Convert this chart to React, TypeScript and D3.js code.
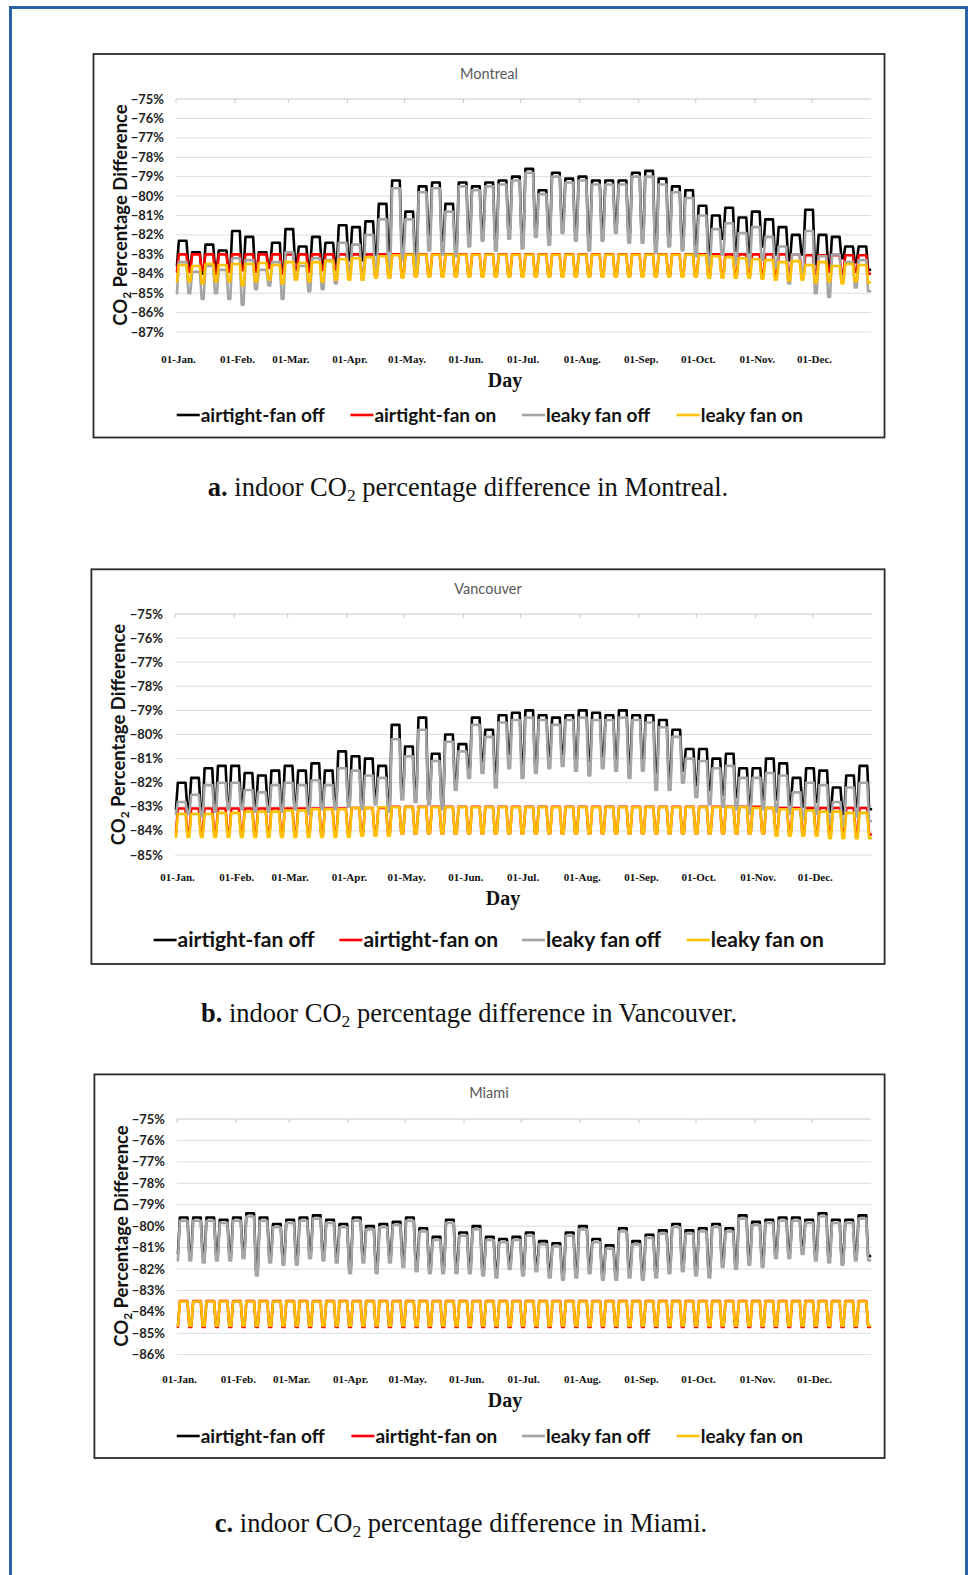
import React from 'react';
import * as d3 from 'd3';

// ---------- shared labels ----------
const monthLabels = ['01-Jan.', '01-Feb.', '01-Mar.', '01-Apr.', '01-May.', '01-Jun.', '01-Jul.', '01-Aug.', '01-Sep.', '01-Oct.', '01-Nov.', '01-Dec.'];
const monthStartDays = [0, 31, 59, 90, 120, 151, 181, 212, 243, 273, 304, 334];
const seriesNames = ['airtight-fan off', 'airtight-fan on', 'leaky fan off', 'leaky fan on'];
const seriesColors = ['#000000', '#ff0000', '#a5a5a5', '#ffc000'];

// Weekly values (52 Mon–Sun blocks, 2017: Jan 1 is a Sunday).
// "Wd" = weekday level, "We" = weekend level, in percent.

// ---------- Montreal ----------
const mtlAirtightOffWd = [
  -82.3, -82.9, -82.5, -82.8, -81.8, -82.1, -82.9, -82.4, -81.7, -82.6, -82.1, -82.4, -81.5,
  -81.6, -81.3, -80.4, -79.2, -80.8, -79.5, -79.3, -80.4, -79.3, -79.5, -79.3, -79.2, -79.0,
  -78.6, -79.7, -78.8, -79.1, -79.0, -79.2, -79.2, -79.2, -78.8, -78.7, -79.1, -79.5, -79.7,
  -80.5, -81.0, -80.6, -81.1, -80.8, -81.2, -81.6, -82.0, -80.7, -82.0, -82.1, -82.6, -82.6,
];
const mtlAirtightOffWe = [
  -83.6, -84.0, -83.7, -83.9, -83.8, -83.9, -83.6, -84.0, -83.4, -83.7, -83.6, -83.5, -83.3,
  -83.3, -83.0, -82.8, -82.6, -83.0, -82.0, -82.3, -82.6, -82.0, -81.8, -82.2, -81.7, -82.3,
  -81.6, -82.0, -81.4, -81.8, -82.2, -81.7, -81.4, -81.9, -82.0, -82.4, -82.1, -82.3, -82.5,
  -83.0, -82.2, -82.8, -82.9, -82.6, -83.0, -83.3, -83.0, -83.5, -83.7, -83.2, -83.4, -83.8,
];
const mtlLeakyOffWd = [
  -83.4, -83.9, -83.6, -83.8, -83.2, -83.3, -83.8, -83.4, -82.9, -83.6, -83.2, -83.3, -82.4,
  -82.5, -82.0, -81.2, -79.6, -81.2, -79.8, -79.6, -80.8, -79.5, -79.7, -79.5, -79.4, -79.2,
  -78.8, -79.9, -79.0, -79.3, -79.2, -79.4, -79.4, -79.4, -79.0, -79.0, -79.4, -79.8, -80.1,
  -81.0, -81.7, -81.4, -81.9, -81.6, -82.1, -82.6, -83.0, -81.8, -83.1, -83.0, -83.4, -83.3,
];
const mtlLeakyOffWe = [
  -85.0, -85.3, -85.0, -85.3, -85.6, -84.8, -84.6, -85.3, -84.3, -84.9, -84.8, -84.5, -84.1,
  -84.3, -84.0, -84.2, -83.3, -83.8, -82.8, -83.0, -83.1, -82.6, -82.3, -82.8, -82.2, -82.7,
  -82.1, -82.5, -81.9, -82.3, -82.8, -82.3, -81.9, -82.4, -82.4, -82.9, -82.6, -82.8, -83.1,
  -83.6, -83.0, -83.5, -83.6, -83.3, -83.7, -84.5, -84.0, -85.0, -85.2, -84.4, -84.7, -84.9,
];
const mtlAirtightOnWd = [
  -83.0, -83.0, -83.0, -83.0, -83.0, -83.0, -83.0, -83.0, -83.0, -83.0, -83.0, -83.0, -83.0,
  -83.0, -83.0, -83.0, -83.0, -83.0, -83.0, -83.0, -83.0, -83.0, -83.0, -83.0, -83.0, -83.0,
  -83.0, -83.0, -83.0, -83.0, -83.0, -83.0, -83.0, -83.0, -83.0, -83.0, -83.0, -83.0, -83.0,
  -83.0, -83.0, -83.0, -83.0, -83.0, -83.0, -83.0, -83.0, -83.05, -83.05, -83.05, -83.05, -83.05,
];
const mtlAirtightOnWe = [
  -83.9, -83.8, -84.0, -83.9, -83.8, -83.9, -83.7, -84.0, -83.8, -83.9, -83.8, -83.8, -83.9,
  -84.0, -84.1, -84.1, -84.1, -84.1, -84.1, -84.1, -84.1, -84.1, -84.1, -84.1, -84.1, -84.1,
  -84.1, -84.1, -84.1, -84.1, -84.1, -84.1, -84.1, -84.1, -84.1, -84.1, -84.1, -84.1, -84.1,
  -84.1, -84.1, -84.1, -84.1, -84.1, -84.1, -84.0, -84.0, -84.0, -83.9, -84.0, -83.9, -84.0,
];
const mtlLeakyOnWd = [
  -83.55, -83.6, -83.5, -83.55, -83.5, -83.5, -83.45, -83.55, -83.4, -83.45, -83.4, -83.35, -83.25,
  -83.2, -83.15, -83.1, -83.05, -83.02, -83.02, -83.02, -83.02, -83.02, -83.02, -83.02, -83.02, -83.02,
  -83.02, -83.02, -83.02, -83.02, -83.02, -83.02, -83.02, -83.02, -83.02, -83.02, -83.02, -83.02, -83.02,
  -83.05, -83.1, -83.15, -83.2, -83.25, -83.3, -83.4, -83.35, -83.55, -83.4, -83.6, -83.5, -83.55,
];
const mtlLeakyOnWe = [
  -84.4, -84.5, -84.4, -84.4, -84.6, -84.4, -84.3, -84.5, -84.3, -84.4, -84.4, -84.3, -84.3,
  -84.3, -84.2, -84.2, -84.2, -84.15, -84.15, -84.15, -84.15, -84.15, -84.15, -84.15, -84.15, -84.15,
  -84.15, -84.15, -84.15, -84.15, -84.15, -84.15, -84.15, -84.15, -84.15, -84.15, -84.15, -84.15, -84.15,
  -84.2, -84.2, -84.2, -84.2, -84.25, -84.3, -84.35, -84.3, -84.45, -84.4, -84.5, -84.4, -84.45,
];

// ---------- Vancouver ----------
const vanAirtightOffWd = [
  -82.0, -81.8, -81.4, -81.3, -81.3, -81.6, -81.7, -81.5, -81.3, -81.5, -81.2, -81.5, -80.7,
  -80.9, -81.0, -81.3, -79.6, -80.5, -79.3, -80.8, -80.0, -80.4, -79.3, -79.8, -79.2, -79.1,
  -79.0, -79.2, -79.3, -79.2, -79.0, -79.1, -79.2, -79.0, -79.2, -79.2, -79.4, -79.8, -80.6,
  -80.6, -81.0, -80.8, -81.4, -81.4, -81.0, -81.2, -81.8, -81.4, -81.5, -82.2, -81.7, -81.3,
];
const vanAirtightOffWe = [
  -83.1, -83.2, -83.0, -83.0, -82.9, -83.0, -83.0, -83.0, -82.9, -83.0, -83.0, -82.9, -82.8,
  -82.9, -82.6, -82.9, -82.4, -82.5, -82.7, -82.9, -82.0, -81.4, -81.1, -81.6, -80.8, -81.2,
  -81.2, -80.9, -80.8, -81.0, -81.1, -80.9, -81.0, -81.2, -81.0, -81.6, -81.8, -81.5, -82.1,
  -82.3, -82.5, -82.6, -82.9, -82.7, -82.7, -82.9, -83.0, -82.8, -83.2, -83.3, -83.0, -83.1,
];
const vanLeakyOffWd = [
  -82.8, -82.5, -82.1, -82.0, -82.0, -82.3, -82.4, -82.1, -82.0, -82.1, -81.9, -82.1, -81.4,
  -81.5, -81.7, -81.8, -80.2, -80.9, -79.8, -81.1, -80.3, -80.7, -79.6, -80.1, -79.5, -79.4,
  -79.3, -79.4, -79.6, -79.4, -79.3, -79.4, -79.4, -79.3, -79.4, -79.5, -79.7, -80.1, -81.0,
  -81.1, -81.4, -81.3, -81.8, -81.8, -81.6, -81.7, -82.4, -82.0, -82.1, -82.8, -82.2, -82.0,
];
const vanLeakyOffWe = [
  -83.3, -83.4, -83.2, -83.1, -83.1, -83.2, -83.2, -83.2, -83.1, -83.3, -83.1, -83.1, -83.0,
  -83.1, -82.9, -83.2, -82.7, -82.8, -82.9, -83.1, -82.3, -81.8, -81.6, -82.2, -81.4, -81.8,
  -81.6, -81.4, -81.3, -81.5, -81.7, -81.4, -81.5, -81.8, -81.5, -82.3, -82.3, -82.0, -82.6,
  -82.9, -83.0, -83.1, -83.3, -83.1, -83.2, -83.3, -83.5, -83.3, -83.7, -83.8, -83.4, -83.6,
];
const vanAirtightOnWd = [
  -83.07, -83.07, -83.07, -83.07, -83.07, -83.07, -83.07, -83.07, -83.07, -83.07, -83.07, -83.07, -83.07,
  -83.05, -83.05, -83.05, -83.0, -83.0, -83.0, -83.0, -83.0, -83.0, -83.0, -83.0, -83.0, -83.0,
  -83.0, -83.0, -83.0, -83.0, -83.0, -83.0, -83.0, -83.0, -83.0, -83.0, -83.0, -83.0, -83.0,
  -83.0, -83.0, -83.0, -83.0, -83.0, -83.05, -83.05, -83.05, -83.05, -83.05, -83.05, -83.05, -83.05,
];
const vanAirtightOnWe = [
  -84.1, -84.1, -84.1, -84.1, -84.1, -84.1, -84.1, -84.1, -84.1, -84.1, -84.1, -84.1, -84.1,
  -84.1, -84.1, -84.1, -84.1, -84.1, -84.1, -84.1, -84.1, -84.1, -84.1, -84.1, -84.1, -84.1,
  -84.1, -84.1, -84.1, -84.1, -84.1, -84.1, -84.1, -84.1, -84.1, -84.1, -84.1, -84.1, -84.1,
  -84.1, -84.1, -84.1, -84.1, -84.1, -84.1, -84.1, -84.1, -84.1, -84.1, -84.1, -84.1, -84.15,
];
const vanLeakyOnWd = [
  -83.3, -83.3, -83.3, -83.25, -83.25, -83.2, -83.2, -83.2, -83.15, -83.15, -83.1, -83.1, -83.1,
  -83.05, -83.05, -83.02, -83.02, -83.02, -83.02, -83.02, -83.02, -83.02, -83.02, -83.02, -83.02, -83.02,
  -83.02, -83.02, -83.02, -83.02, -83.02, -83.02, -83.02, -83.02, -83.02, -83.02, -83.02, -83.02, -83.02,
  -83.02, -83.02, -83.02, -83.02, -83.05, -83.05, -83.1, -83.1, -83.15, -83.2, -83.2, -83.25, -83.25,
];
const vanLeakyOnWe = [
  -84.25, -84.25, -84.25, -84.25, -84.25, -84.25, -84.25, -84.25, -84.25, -84.25, -84.25, -84.25, -84.25,
  -84.2, -84.2, -84.2, -84.1, -84.1, -84.1, -84.1, -84.1, -84.1, -84.1, -84.1, -84.1, -84.1,
  -84.1, -84.1, -84.1, -84.1, -84.1, -84.1, -84.1, -84.1, -84.1, -84.1, -84.1, -84.1, -84.1,
  -84.1, -84.1, -84.1, -84.1, -84.1, -84.2, -84.2, -84.2, -84.2, -84.3, -84.3, -84.3, -84.3,
];

// ---------- Miami ----------
const miaAirtightOffWd = [
  -79.6, -79.6, -79.6, -79.7, -79.6, -79.4, -79.6, -79.9, -79.7, -79.6, -79.5, -79.7, -79.9,
  -79.6, -80.0, -79.9, -79.8, -79.6, -80.1, -80.5, -79.7, -80.3, -80.0, -80.5, -80.6, -80.5,
  -80.3, -80.7, -80.8, -80.3, -80.0, -80.6, -80.9, -80.1, -80.7, -80.4, -80.2, -79.9, -80.2,
  -80.1, -79.9, -80.1, -79.5, -79.8, -79.7, -79.6, -79.6, -79.7, -79.4, -79.7, -79.7, -79.5,
];
const miaAirtightOffWe = [
  -81.3, -81.4, -81.3, -81.3, -81.2, -82.0, -81.4, -81.5, -81.5, -81.2, -81.3, -81.4, -81.9,
  -81.4, -81.9, -81.4, -81.6, -81.8, -81.9, -81.9, -81.9, -81.9, -82.0, -82.1, -81.7, -82.0,
  -81.8, -82.1, -82.2, -82.1, -81.9, -82.2, -82.2, -82.1, -82.2, -82.1, -81.9, -81.8, -82.0,
  -82.1, -81.6, -81.7, -81.5, -81.6, -81.2, -81.2, -81.0, -81.3, -81.4, -81.5, -81.3, -81.4,
];
const miaLeakyOffWd = [
  -79.75, -79.75, -79.75, -79.85, -79.75, -79.55, -79.75, -80.05, -79.85, -79.75, -79.65, -79.85, -80.05,
  -79.75, -80.15, -80.05, -79.95, -79.75, -80.25, -80.65, -79.85, -80.45, -80.15, -80.65, -80.75, -80.65,
  -80.45, -80.85, -80.95, -80.45, -80.15, -80.75, -81.05, -80.25, -80.85, -80.55, -80.35, -80.05, -80.35,
  -80.25, -80.05, -80.25, -79.65, -79.95, -79.85, -79.75, -79.75, -79.85, -79.55, -79.85, -79.85, -79.65,
];
const miaLeakyOffWe = [
  -81.6, -81.7, -81.6, -81.6, -81.5, -82.3, -81.7, -81.8, -81.8, -81.5, -81.6, -81.7, -82.2,
  -81.7, -82.2, -81.7, -81.9, -82.1, -82.2, -82.2, -82.2, -82.2, -82.3, -82.4, -82.0, -82.3,
  -82.1, -82.4, -82.5, -82.4, -82.2, -82.5, -82.5, -82.4, -82.5, -82.4, -82.2, -82.1, -82.3,
  -82.4, -81.9, -82.0, -81.8, -81.9, -81.5, -81.5, -81.3, -81.6, -81.7, -81.8, -81.6, -81.6,
];
const miaAirtightOnWd = [
  -83.5, -83.5, -83.5, -83.5, -83.5, -83.5, -83.5, -83.5, -83.5, -83.5, -83.5, -83.5, -83.5,
  -83.5, -83.5, -83.5, -83.5, -83.5, -83.5, -83.5, -83.5, -83.5, -83.5, -83.5, -83.5, -83.5,
  -83.5, -83.5, -83.5, -83.5, -83.5, -83.5, -83.5, -83.5, -83.5, -83.5, -83.5, -83.5, -83.5,
  -83.5, -83.5, -83.5, -83.5, -83.5, -83.5, -83.5, -83.5, -83.5, -83.5, -83.5, -83.5, -83.5,
];
const miaAirtightOnWe = [
  -84.7, -84.7, -84.7, -84.7, -84.7, -84.7, -84.7, -84.7, -84.7, -84.7, -84.7, -84.7, -84.7,
  -84.7, -84.7, -84.7, -84.7, -84.7, -84.7, -84.7, -84.7, -84.7, -84.7, -84.7, -84.7, -84.7,
  -84.7, -84.7, -84.7, -84.7, -84.7, -84.7, -84.7, -84.7, -84.7, -84.7, -84.7, -84.7, -84.7,
  -84.7, -84.7, -84.7, -84.7, -84.7, -84.7, -84.7, -84.7, -84.7, -84.7, -84.7, -84.7, -84.7,
];
const miaLeakyOnWd = [
  -83.52, -83.52, -83.52, -83.52, -83.52, -83.52, -83.52, -83.52, -83.52, -83.52, -83.52, -83.52, -83.52,
  -83.52, -83.52, -83.52, -83.52, -83.52, -83.52, -83.52, -83.52, -83.52, -83.52, -83.52, -83.52, -83.52,
  -83.52, -83.52, -83.52, -83.52, -83.52, -83.52, -83.52, -83.52, -83.52, -83.52, -83.52, -83.52, -83.52,
  -83.52, -83.52, -83.52, -83.52, -83.52, -83.52, -83.52, -83.52, -83.52, -83.52, -83.52, -83.52, -83.52,
];
const miaLeakyOnWe = [
  -84.65, -84.65, -84.65, -84.65, -84.65, -84.65, -84.65, -84.65, -84.65, -84.65, -84.65, -84.65, -84.65,
  -84.65, -84.65, -84.65, -84.65, -84.65, -84.65, -84.65, -84.65, -84.65, -84.65, -84.65, -84.65, -84.65,
  -84.65, -84.65, -84.65, -84.65, -84.65, -84.65, -84.65, -84.65, -84.65, -84.65, -84.65, -84.65, -84.65,
  -84.65, -84.65, -84.65, -84.65, -84.65, -84.65, -84.65, -84.65, -84.65, -84.65, -84.65, -84.65, -84.65,
];

// Day-by-day table: day 0 is a Sunday; each later block runs Mon..Sun.
function toDaily(weekday: number[], weekend: number[]): number[] {
  const out: number[] = [];
  for (let d = 0; d < 365; d++) {
    if (d === 0) {
      out.push(weekend[0]);
      continue;
    }
    const k = Math.floor((d - 1) / 7);
    const pos = (d - 1) % 7;
    out.push(pos < 5 ? weekday[k] : weekend[k]);
  }
  return out;
}

const SANS = 'Lato, "Open Sans", sans-serif';
const SERIF = '"Liberation Serif", "Times New Roman", serif';

interface PanelCfg {
  title: string;
  box: [number, number, number, number];
  x0: number;
  x1: number;
  yMin: number;
  yMax: number;
  yBottom: number;
  yTop: number;
  titleX: number;
  titleY: number;
  tickRight: number;
  yTitleX: number;
  yTitleY: number;
  xLabelY: number;
  dayX: number;
  dayY: number;
  legendY: number;
  legendX: number[];
  legendSize: number;
  series: number[][];
}

function Panel({ cfg }: { cfg: PanelCfg }) {
  const x = d3.scaleLinear().domain([0, 365]).range([cfg.x0, cfg.x1]);
  const y = d3.scaleLinear().domain([cfg.yMin, cfg.yMax]).range([cfg.yBottom, cfg.yTop]);
  const line = d3
    .line<number>()
    .x((_, i) => x(i + 0.5))
    .y((v) => y(v));
  const fmt = d3.format('.0%');
  const ticks = d3.range(cfg.yMax, cfg.yMin - 0.5, -1);
  const [bx, by, bw, bh] = cfg.box;
  return (
    <g>
      <rect x={bx} y={by} width={bw} height={bh} fill="#fff" stroke="#2b2b2b" strokeWidth={1.8} />
      <text x={cfg.titleX} y={cfg.titleY} textAnchor="middle" fontFamily={SANS} fontSize={14.5} fill="#595959">
        {cfg.title}
      </text>
      {ticks.map((t) => (
        <g key={t}>
          <line
            x1={cfg.x0}
            x2={cfg.x1}
            y1={y(t)}
            y2={y(t)}
            stroke={t === cfg.yMax ? '#c8c8c8' : '#dcdcdc'}
            strokeWidth={1}
          />
          <text
            x={cfg.tickRight}
            y={y(t)}
            dy="0.35em"
            textAnchor="end"
            fontFamily={SANS}
            fontWeight={700}
            fontSize={13}
            fill="#1e1e1e"
          >
            {fmt(t / 100)}
          </text>
        </g>
      ))}
      {monthStartDays.map((d) => (
        <line key={d} x1={x(d)} x2={x(d)} y1={y(cfg.yMax)} y2={y(cfg.yMax) + 4} stroke="#c8c8c8" strokeWidth={1} />
      ))}
      {cfg.series.map((s, i) => (
        <path
          key={i}
          d={line(s) || ''}
          fill="none"
          stroke={seriesColors[i]}
          strokeWidth={2.6}
          strokeLinejoin="round"
          strokeLinecap="round"
        />
      ))}
      <text
        transform={`translate(${cfg.yTitleX},${cfg.yTitleY}) rotate(-90)`}
        textAnchor="middle"
        dy="0.35em"
        fontFamily={SANS}
        fontWeight={700}
        fontSize={18.5}
        fill="#111"
      >
        CO<tspan fontSize={12} dy={4.5}>2</tspan>
        <tspan dy={-4.5}> Percentage Difference</tspan>
      </text>
      {monthStartDays.map((d, i) => (
        <text
          key={d}
          x={x(d) + 2.5}
          y={cfg.xLabelY}
          textAnchor="middle"
          fontFamily={SERIF}
          fontWeight={700}
          fontSize={11}
          fill="#111"
        >
          {monthLabels[i]}
        </text>
      ))}
      <text x={cfg.dayX} y={cfg.dayY} textAnchor="middle" fontFamily={SERIF} fontWeight={700} fontSize={20} fill="#111">
        Day
      </text>
      {seriesNames.map((n, i) => (
        <g key={n}>
          <line
            x1={cfg.legendX[i]}
            x2={cfg.legendX[i] + 23}
            y1={cfg.legendY}
            y2={cfg.legendY}
            stroke={seriesColors[i]}
            strokeWidth={2.6}
          />
          <text
            x={cfg.legendX[i] + 24}
            y={cfg.legendY}
            dy="0.35em"
            fontFamily={SANS}
            fontWeight={700}
            fontSize={cfg.legendSize}
            fill="#111"
          >
            {n}
          </text>
        </g>
      ))}
    </g>
  );
}

function Caption({ x, y, tag, city }: { x: number; y: number; tag: string; city: string }) {
  return (
    <text x={x} y={y} textAnchor="middle" fontFamily={SERIF} fontSize={26.5} fill="#111">
      <tspan fontWeight={700}>{tag}</tspan>
      <tspan> indoor CO</tspan>
      <tspan fontSize={17.5} dy={4.5}>2</tspan>
      <tspan dy={-4.5}> percentage difference in {city}.</tspan>
    </text>
  );
}

const panels: PanelCfg[] = [
  {
    title: 'Montreal',
    box: [93.5, 54, 791, 383.5],
    x0: 176,
    x1: 871,
    yMin: -87,
    yMax: -75,
    yBottom: 332,
    yTop: 99,
    titleX: 489,
    titleY: 78.5,
    tickRight: 164,
    yTitleX: 120.5,
    yTitleY: 215,
    xLabelY: 363,
    dayX: 505,
    dayY: 387,
    legendY: 415,
    legendX: [176.7, 350.4, 522, 676.7],
    legendSize: 19,
    series: [
      toDaily(mtlAirtightOffWd, mtlAirtightOffWe),
      toDaily(mtlAirtightOnWd, mtlAirtightOnWe),
      toDaily(mtlLeakyOffWd, mtlLeakyOffWe),
      toDaily(mtlLeakyOnWd, mtlLeakyOnWe),
    ],
  },
  {
    title: 'Vancouver',
    box: [91.4, 569.3, 793.2, 394.7],
    x0: 175,
    x1: 872,
    yMin: -85,
    yMax: -75,
    yBottom: 855,
    yTop: 614,
    titleX: 488,
    titleY: 593.5,
    tickRight: 163,
    yTitleX: 118.5,
    yTitleY: 734.5,
    xLabelY: 881,
    dayX: 503,
    dayY: 905,
    legendY: 940,
    legendX: [153.6, 339.4, 522, 686.8],
    legendSize: 21,
    series: [
      toDaily(vanAirtightOffWd, vanAirtightOffWe),
      toDaily(vanAirtightOnWd, vanAirtightOnWe),
      toDaily(vanLeakyOffWd, vanLeakyOffWe),
      toDaily(vanLeakyOnWd, vanLeakyOnWe),
    ],
  },
  {
    title: 'Miami',
    box: [94.4, 1074.4, 790.2, 383.6],
    x0: 177,
    x1: 871,
    yMin: -86,
    yMax: -75,
    yBottom: 1354.7,
    yTop: 1119,
    titleX: 489,
    titleY: 1097.5,
    tickRight: 165,
    yTitleX: 121.5,
    yTitleY: 1236,
    xLabelY: 1383,
    dayX: 505,
    dayY: 1407,
    legendY: 1436,
    legendX: [176.7, 351.4, 522, 676.7],
    legendSize: 19,
    series: [
      toDaily(miaAirtightOffWd, miaAirtightOffWe),
      toDaily(miaAirtightOnWd, miaAirtightOnWe),
      toDaily(miaLeakyOffWd, miaLeakyOffWe),
      toDaily(miaLeakyOnWd, miaLeakyOnWe),
    ],
  },
];

export default function App() {
  return (
    <svg
      width={969}
      height={1575}
      viewBox="0 0 969 1575"
      style={{ position: 'absolute', left: 0, top: 0, background: '#fff' }}
    >
      <rect x={0} y={0} width={969} height={1575} fill="#fff" />
      <rect x={10.5} y={7.5} width={956} height={1620} fill="none" stroke="#2c62a6" strokeWidth={3} />
      {panels.map((p) => (
        <Panel key={p.title} cfg={p} />
      ))}
      <Caption x={468} y={496} tag="a." city="Montreal" />
      <Caption x={469} y={1022} tag="b." city="Vancouver" />
      <Caption x={461} y={1532} tag="c." city="Miami" />
    </svg>
  );
}
